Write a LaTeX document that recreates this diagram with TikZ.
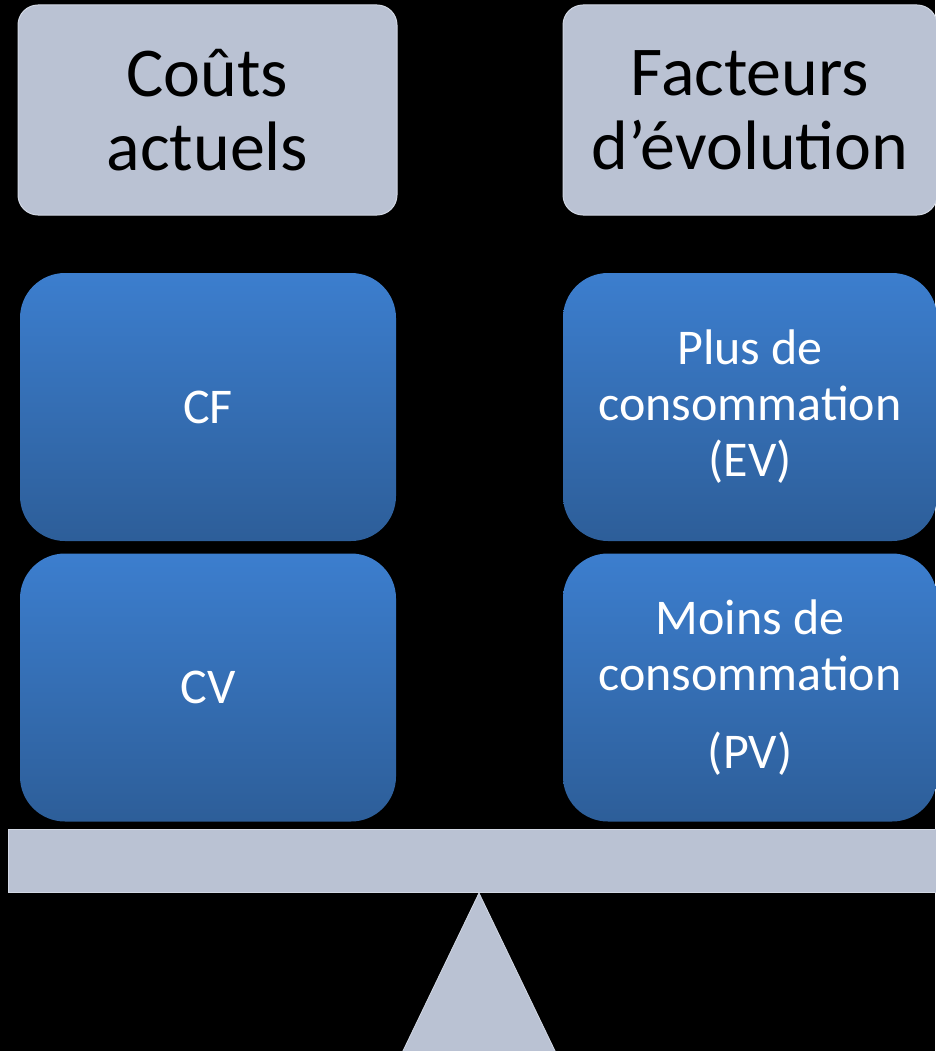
\documentclass[tikz,border=0pt]{standalone}
\usepackage{fontspec}
\setmainfont{Carlito}
\definecolor{bargray}{HTML}{BAC2D3}
\definecolor{edgegray}{HTML}{D2D8E4}
\definecolor{bluetop}{HTML}{3C7ECE}
\definecolor{bluebot}{HTML}{2D5E99}

\begin{document}
\begin{tikzpicture}[x=1pt,y=-1pt]
      \fill[black] (0,0) rectangle (935,1051);
      \useasboundingbox (0,0) rectangle (935,1051);
      \begin{scope}[every node/.style={rounded corners=20pt,fill=bargray,draw=edgegray,line width=1pt,
          minimum width=379pt,minimum height=210pt,inner sep=0pt,align=center,
          font=\fontsize{70}{74}\selectfont}]
        \node (costs) at (207.5,110) {Coûts\\actuels};
        \node[minimum width=374pt] (factors) at (750,110) {Facteurs\\d’évolution};
      \end{scope}
      \begin{scope}[every node/.style={rounded corners=45pt,top color=bluetop,bottom color=bluebot,
          minimum width=376pt,minimum height=268pt,inner sep=0pt,align=center,text=white,
          font=\fontsize{50}{56}\selectfont}]
        \node (cf) at (208,407) {CF};
        \node (cv) at (208,687.5) {CV};
        \node[minimum width=374pt] (ev) at (750,407) {Plus de\\consommation\\(EV)};
        \node[minimum width=374pt] (pv) at (750,687.5) {Moins de\\consommation\\[22pt](PV)};
      \end{scope}
      \node[fill=bargray,draw=edgegray,line width=1pt,minimum width=940pt,minimum height=63pt,
        inner sep=0pt,anchor=north west] (beam) at (8,829) {};
      \coordinate (apex) at (479,893);
      \fill[bargray,draw=edgegray,line width=0.8pt] (apex) -- (557,1055) -- (401,1055) -- cycle;
    \end{tikzpicture}
\end{document}
